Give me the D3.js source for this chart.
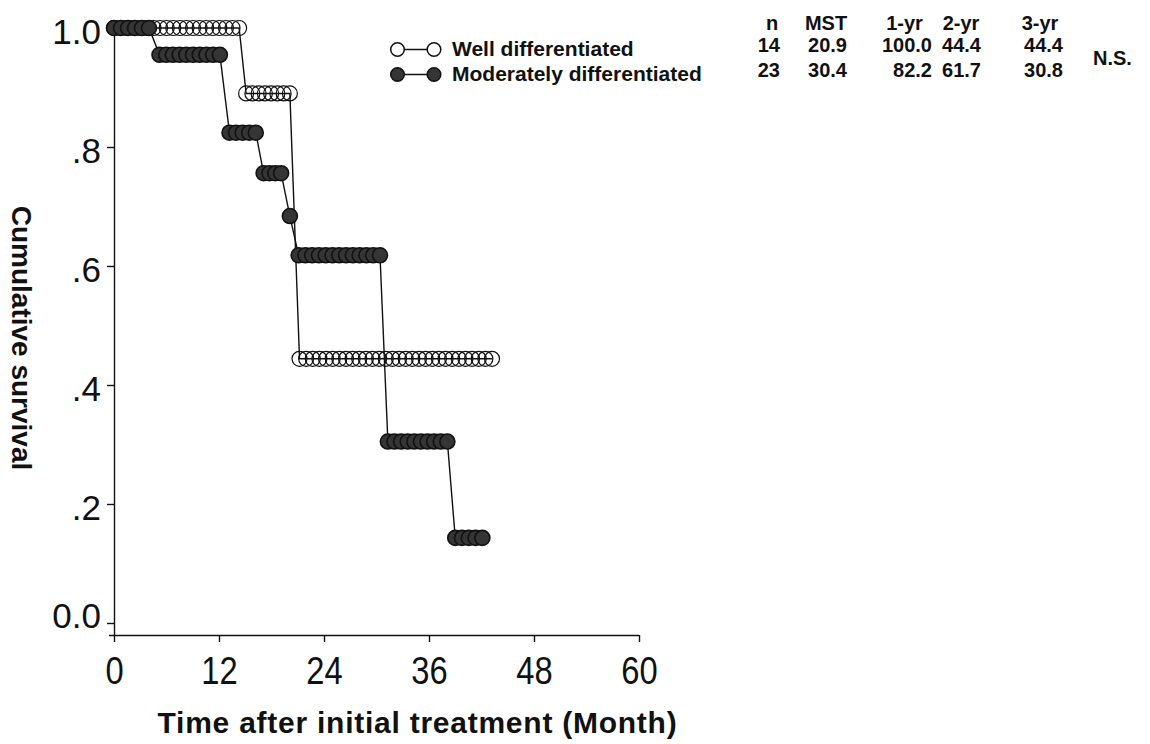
<!DOCTYPE html>
<html>
<head>
<meta charset="utf-8">
<script src="https://cdn.jsdelivr.net/npm/d3@7/dist/d3.min.js"></script>
<style>
  html, body { margin: 0; padding: 0; background: #fff; }
  svg { display: block; }
  .axis path, .axis line { stroke: #111; stroke-width: 1.4; }
  .ytick text { font-family: "Liberation Sans", Arial, sans-serif; font-size: 35px; fill: #111; }
  .xtick text { font-family: "Liberation Sans", Arial, sans-serif; font-size: 39px; fill: #111; }
  .bold { font-family: "Liberation Sans", Arial, sans-serif; font-weight: bold; fill: #111; }
</style>
</head>
<body>
<svg id="chart" width="1150" height="744"></svg>
<script>
// ---------------- data ----------------
const xTicks = [0, 12, 24, 36, 48, 60];
const yTicks = [0, 0.2, 0.4, 0.6, 0.8, 1.0];
const yTickLabels = ["0.0", ".2", ".4", ".6", ".8", "1.0"];

const seriesNames = ["Well differentiated", "Moderately differentiated"];

// Well differentiated: step segments (start month, end month, survival)
const wellStart = [0, 15.1, 21.2];
const wellEnd   = [14.3, 20.1, 43.2];
const wellSurv  = [1.0, 0.89, 0.444];

// Moderately differentiated
const modStart = [0, 5.2, 13.2, 17.1, 20.1, 21.1, 31.3, 39.0];
const modEnd   = [4.0, 12.1, 16.2, 19.1, 20.1, 30.4, 38.1, 42.1];
const modSurv  = [1.0, 0.955, 0.824, 0.756, 0.684, 0.618, 0.305, 0.143];

// Summary table
const tableHeaders = ["n", "MST", "1-yr", "2-yr", "3-yr"];
const wellStats = ["14", "20.9", "100.0", "44.4", "44.4"];
const modStats  = ["23", "30.4", "82.2", "61.7", "30.8"];
const pLabel = "N.S.";

const xTitle = "Time after initial treatment (Month)";
const yTitle = "Cumulative survival";

// ---------------- layout ----------------
const svg = d3.select("#chart");
const x = d3.scaleLinear().domain([0, 60]).range([114, 639]);
const y = d3.scaleLinear().domain([0, 1]).range([623, 28]);
const xAxisY = 635;
const R = 7.5;
const markerStep = 0.75; // months between plotted symbols (visual density)

// x axis
const gx = svg.append("g").attr("class", "axis xtick")
  .attr("transform", `translate(0,${xAxisY})`)
  .call(d3.axisBottom(x).tickValues(xTicks).tickSize(7).tickSizeOuter(0).tickPadding(14));
gx.select(".domain").attr("d", `M${x(0) - 5},0.5H${x(60)}`);
gx.selectAll(".tick text").attr("transform", "scale(0.84,1)");

// y axis
const gy = svg.append("g").attr("class", "axis ytick")
  .attr("transform", `translate(${x(0)},0)`)
  .call(d3.axisLeft(y).tickValues(yTicks).tickFormat((d, i) => yTickLabels[i]).tickSize(7).tickSizeOuter(0).tickPadding(6));
gy.select(".domain").attr("d", `M0.5,${y(1)}V${xAxisY}`);
gy.selectAll(".tick text").attr("dy", (d) => d === 0 ? "0.13em" : "0.43em");

// ---------------- series ----------------
function buildSeries(starts, ends, survs) {
  return starts.map((s, i) => {
    const e = ends[i];
    const n = Math.max(0, Math.round((e - s) / markerStep));
    const pts = n === 0 ? [s] : d3.range(n + 1).map(k => s + k * (e - s) / n);
    return { start: s, end: e, surv: survs[i], pts };
  });
}

function drawSeries(segs, filled) {
  const g = svg.append("g");
  const path = d3.path();
  segs.forEach((sg, i) => {
    if (i === 0) path.moveTo(x(sg.start), y(sg.surv));
    else path.lineTo(x(sg.start), y(sg.surv));
    path.lineTo(x(sg.end), y(sg.surv));
  });
  g.append("path").attr("d", path.toString())
    .attr("fill", "none").attr("stroke", "#111").attr("stroke-width", 1.4);
  const pts = [];
  segs.forEach(sg => sg.pts.forEach(t => pts.push({ t, s: sg.surv })));
  g.selectAll("circle").data(pts).join("circle")
    .attr("cx", d => x(d.t)).attr("cy", d => y(d.s)).attr("r", R)
    .attr("fill", filled ? "#353535" : "none")
    .attr("stroke", "#111")
    .attr("stroke-width", filled ? 1.6 : 1.2);
}

drawSeries(buildSeries(wellStart, wellEnd, wellSurv), false);
drawSeries(buildSeries(modStart, modEnd, modSurv), true);

// ---------------- legend ----------------
const legend = svg.append("g");
[0, 1].forEach(i => {
  const ly = 49.5 + i * 25;
  legend.append("line").attr("x1", 397.5).attr("x2", 434).attr("y1", ly).attr("y2", ly)
    .attr("stroke", "#111").attr("stroke-width", 1.6);
  [397.5, 434].forEach(cx => {
    legend.append("circle").attr("cx", cx).attr("cy", ly).attr("r", 6.8)
      .attr("fill", i === 0 ? "#fff" : "#353535").attr("stroke", "#111").attr("stroke-width", 1.5);
  });
  legend.append("text").attr("class", "bold").attr("x", 452).attr("y", ly + 6.5)
    .attr("font-size", 21).text(seriesNames[i]);
});

// ---------------- table ----------------
const headerCenters = [772, 826, 904.5, 961, 1040];
const colRights = [780, 847, 932, 981, 1063];
const table = svg.append("g");
tableHeaders.forEach((h, i) => {
  table.append("text").attr("class", "bold").attr("x", headerCenters[i]).attr("y", 30)
    .attr("text-anchor", "middle").attr("font-size", 20).text(h);
});
[wellStats, modStats].forEach((row, r) => {
  row.forEach((v, i) => {
    table.append("text").attr("class", "bold").attr("x", colRights[i]).attr("y", 52 + r * 25)
      .attr("text-anchor", "end").attr("font-size", 20).text(v);
  });
});
table.append("text").attr("class", "bold").attr("x", 1093).attr("y", 65)
  .attr("font-size", 20).text(pLabel);

// ---------------- titles ----------------
svg.append("text").attr("class", "bold")
  .attr("x", 417.5).attr("y", 733).attr("text-anchor", "middle")
  .attr("font-size", 30).attr("letter-spacing", "0.75px").text(xTitle);

svg.append("text").attr("class", "bold")
  .attr("transform", "translate(12,338) rotate(90)")
  .attr("text-anchor", "middle").attr("font-size", 28).text(yTitle);
</script>
</body>
</html>
